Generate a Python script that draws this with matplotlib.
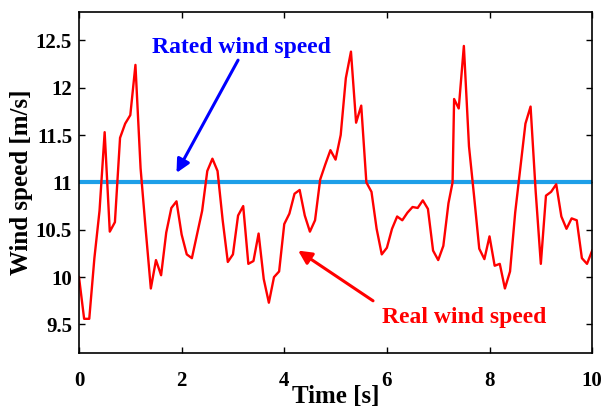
import numpy as np
import matplotlib
matplotlib.use('Agg')
import matplotlib.pyplot as plt

# wind speed samples (about every 0.1 s)
time_s = [0.0, 0.1, 0.2, 0.3, 0.4, 0.5, 0.6, 0.7, 0.8, 0.9,
          1.0, 1.1, 1.2, 1.3, 1.4, 1.5, 1.6, 1.7, 1.8, 1.9,
          2.0, 2.1, 2.2, 2.3, 2.4, 2.5, 2.6, 2.7, 2.8, 2.9,
          3.0, 3.1, 3.2, 3.3, 3.4, 3.5, 3.6, 3.7, 3.8, 3.9,
          4.0, 4.1, 4.2, 4.3, 4.4, 4.5, 4.6, 4.7, 4.8, 4.9,
          5.0, 5.1, 5.2, 5.3, 5.4, 5.5, 5.6, 5.7, 5.8, 5.9,
          6.0, 6.1, 6.2, 6.3, 6.4, 6.5, 6.6, 6.7, 6.8, 6.9,
          7.0, 7.1, 7.2, 7.28, 7.31, 7.4, 7.5, 7.6, 7.7, 7.8, 7.9,
          8.0, 8.1, 8.2, 8.3, 8.4, 8.5, 8.6, 8.7, 8.8, 8.9,
          9.0, 9.1, 9.2, 9.3, 9.4, 9.5, 9.6, 9.7, 9.8, 9.9, 10.0]
wind = [10.0, 9.56, 9.56, 10.2, 10.7, 11.53, 10.48, 10.58, 11.47, 11.62,
        11.71, 12.24, 11.15, 10.5, 9.88, 10.18, 10.02, 10.47, 10.73, 10.8,
        10.45, 10.24, 10.2, 10.45, 10.7, 11.12, 11.25, 11.12, 10.6, 10.16,
        10.24, 10.65, 10.75, 10.14, 10.17, 10.46, 9.98, 9.73, 10.0, 10.06,
        10.56, 10.67, 10.88, 10.92, 10.65, 10.48, 10.6, 11.03, 11.19, 11.34,
        11.24, 11.5, 12.1, 12.38, 11.63, 11.81, 11.0, 10.9, 10.51, 10.24,
        10.31, 10.51, 10.64, 10.6, 10.68, 10.74, 10.73, 10.81, 10.72, 10.28,
        10.18, 10.33, 10.78, 11.0, 11.88, 11.78, 12.44, 11.38, 10.85, 10.3, 10.19,
        10.43, 10.12, 10.14, 9.88, 10.06, 10.68, 11.15, 11.62, 11.8, 10.9,
        10.14, 10.86, 10.9, 10.98, 10.64, 10.51, 10.62, 10.6, 10.2, 10.14, 10.28]
rated = 11.0

plt.rcParams['font.family'] = ['Liberation Serif', 'DejaVu Serif']
plt.rcParams['font.weight'] = 'bold'

fig = plt.figure(figsize=(6.03, 4.08), dpi=100)
ax = fig.add_axes([0.131, 0.135, 0.851, 0.836])

ax.axhline(rated, color='#1E9FE8', lw=3)
ax.plot(time_s, wind, color='red', lw=1.7)

ax.set_xlim(0, 10)
ax.set_ylim(9.2, 12.8)
ax.set_xticks([0, 2, 4, 6, 8, 10])
ax.set_yticks([9.5, 10, 10.5, 11, 11.5, 12, 12.5])
ax.set_yticklabels(['9.5', '10', '10.5', '11', '11.5', '12', '12.5'])
ax.tick_params(direction='in', top=True, right=True, labelsize=15, length=4, width=1)
ax.tick_params(axis='x', pad=13)
ax.tick_params(axis='y', pad=5)
for lab in ax.get_xticklabels() + ax.get_yticklabels():
    lab.set_fontweight('bold')
for s in ax.spines.values():
    s.set_linewidth(1.2)

ax.set_xlabel('Time [s]', fontsize=18, fontweight='bold', labelpad=-4)
ax.set_ylabel('Wind speed [m/s]', fontsize=18, fontweight='bold', labelpad=2)

# annotation texts
ax.text(3.16, 12.42, 'Rated wind speed', color='blue', fontsize=17,
        fontweight='bold', ha='center', va='center')
ax.text(7.51, 9.57, 'Real wind speed', color='red', fontsize=17,
        fontweight='bold', ha='center', va='center')
# arrows
ax.annotate('', xy=(1.9, 11.1), xytext=(3.1, 12.29),
            arrowprops=dict(arrowstyle='-|>', color='blue', lw=2.2, mutation_scale=20,
                            shrinkA=0, shrinkB=0))
ax.annotate('', xy=(4.27, 10.28), xytext=(5.73, 9.75),
            arrowprops=dict(arrowstyle='-|>', color='red', lw=2.2, mutation_scale=20,
                            shrinkA=0, shrinkB=0))

fig.savefig('out.png', dpi=100)
